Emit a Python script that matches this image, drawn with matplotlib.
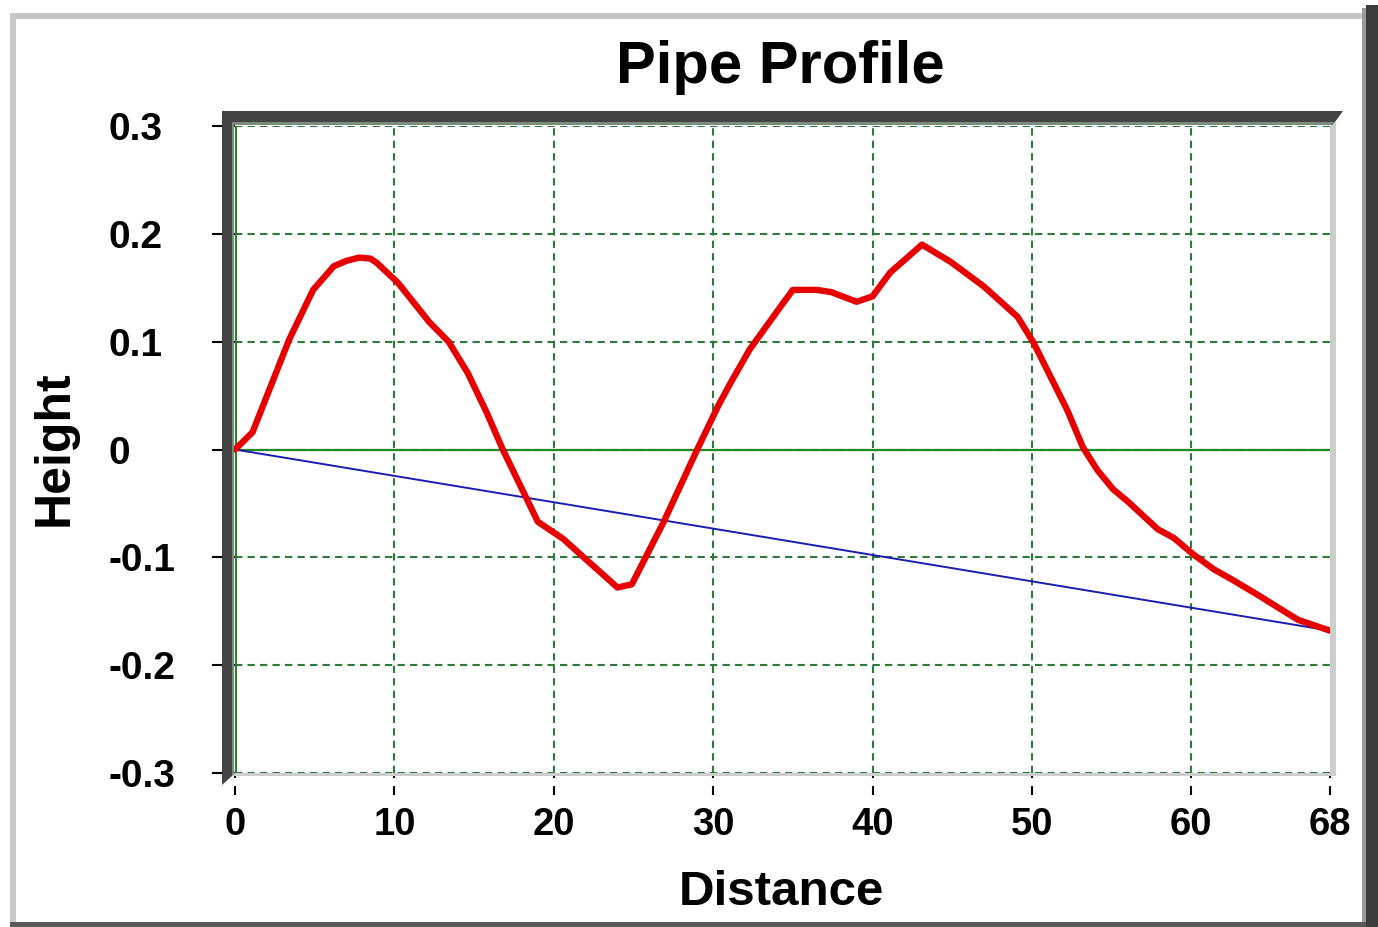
import matplotlib
matplotlib.use("Agg")
import matplotlib.pyplot as plt
from matplotlib.patches import Polygon, Rectangle

# ---------------- data ----------------
distance = [0, 1.1, 3.4, 4.9, 6.2, 7.0, 7.8, 8.5, 8.9, 10.2, 12.2, 13.4, 14.6,
            15.8, 16.8, 19.0, 20.6, 21.8, 24.0, 24.9, 26.9, 29.0, 30.3, 31.1,
            32.3, 34.4, 35.0, 36.5, 37.4, 39.0, 40.0, 41.1, 43.1, 44.9, 47.0,
            49.1, 50.1, 52.2, 53.2, 54.1, 55.1, 56.0, 57.9, 58.9, 60.1, 61.4,
            62.6, 64.3, 65.6, 66.7, 68.7]
height = [0, 0.016, 0.102, 0.148, 0.170, 0.175, 0.178, 0.177, 0.173, 0.155,
          0.118, 0.100, 0.071, 0.034, 0.0, -0.067, -0.083, -0.099, -0.128,
          -0.125, -0.067, 0.0, 0.040, 0.062, 0.093, 0.136, 0.148, 0.148, 0.146,
          0.137, 0.142, 0.164, 0.190, 0.174, 0.151, 0.123, 0.099, 0.037, 0.002,
          -0.019, -0.037, -0.048, -0.074, -0.082, -0.097, -0.111, -0.121,
          -0.136, -0.148, -0.158, -0.168]
gradient_x = [0, 68.7]
gradient_y = [0, -0.168]

x_ticks = [0, 10, 20, 30, 40, 50, 60, 68.7]
x_tick_labels = ["0", "10", "20", "30", "40", "50", "60", "68"]
y_ticks = [0.3, 0.2, 0.1, 0, -0.1, -0.2, -0.3]
y_tick_labels = ["0.3", "0.2", "0.1", "0", "-0.1", "-0.2", "-0.3"]

title = "Pipe Profile"
x_label = "Distance"
y_label = "Height"

# ---------------- layout ----------------
W, H = 1378, 927
FONT = "Liberation Sans"
fig = plt.figure(figsize=(W / 100, H / 100), dpi=100)
fig.patch.set_facecolor("white")


def fx(x):
    return x / W


def fy(y):
    return 1 - y / H


L, R, T, B = 235, 1330, 126, 773
ax = fig.add_axes([fx(L), fy(B), (R - L) / W, (B - T) / H])
ax.set_facecolor("white")
for s in ax.spines.values():
    s.set_visible(False)

ax.set_xlim(0, 68.7)
ax.set_ylim(-0.3, 0.3)

grid_green = "#2d7a3a"
ax.set_xticks(x_ticks)
ax.set_yticks(y_ticks)
ax.grid(True, color=grid_green, linestyle=(0, (3.5, 2.5)), linewidth=1.5, zorder=1)
ax.set_axisbelow(True)
ax.xaxis.get_gridlines()[-1].set_visible(False)

ax.axhline(0, color="#1f8a1f", linewidth=1.6, zorder=2)
ax.axvline(0, color="#1f8a1f", linewidth=3, zorder=2)

ax.plot(gradient_x, gradient_y, color="#1c1cb0", linewidth=1.4, zorder=3)
ax.plot(distance, height, color="#e60000", linewidth=4.6, zorder=4,
        solid_joinstyle="round", solid_capstyle="round", clip_on=False)

ax.set_xticklabels(x_tick_labels, fontfamily=FONT, fontweight="bold", fontsize=27.5)
ax.set_yticklabels(y_tick_labels, fontfamily=FONT, fontweight="bold", fontsize=28,
                   ha="left")
ax.tick_params(axis="x", direction="out", length=22 * 0.72, width=1.5,
               pad=12 * 0.72, color="black")
ax.tick_params(axis="y", direction="out", length=23 * 0.72, width=1.5,
               pad=103 * 0.72, color="black")

ax.set_xlabel(x_label, fontfamily=FONT, fontweight="bold", fontsize=35.5, va="baseline")
ax.xaxis.set_label_coords((781 - L) / (R - L), (B - 905) / (B - T))
ax.set_ylabel(y_label, fontfamily=FONT, fontweight="bold", fontsize=36, va="center")
ax.yaxis.set_label_coords((55 - L) / (R - L), (B - 448) / (B - T))

fig.text(fx(780), fy(83), title, fontfamily=FONT, fontweight="bold", fontsize=43,
         ha="center", va="baseline")


def poly(points, color, z=5):
    fig.patches.append(Polygon([(fx(x), fy(y)) for x, y in points], closed=True,
                               transform=fig.transFigure, facecolor=color,
                               edgecolor="none", zorder=z))


def rect(x0, y0, x1, y1, color, z=5):
    fig.patches.append(Rectangle((fx(x0), fy(y1)), (x1 - x0) / W, (y1 - y0) / H,
                                 transform=fig.transFigure, facecolor=color,
                                 edgecolor="none", zorder=z))


# plot-area bevel
poly([(232, 776), (1336, 776), (1336, 122), (1330, 124), (1330, 773), (234, 773)],
     "#cdcdcd")
rect(234, 778, 1340, 786, "white")
poly([(222, 785), (222, 111), (1343, 111), (1335, 122), (232, 122), (232, 776)],
     "#444444")
poly([(232, 776), (232, 122), (1335, 122), (1333, 125), (234, 125), (234, 774)],
     "#7c8c7c")

# outer frame
rect(10, 13, 1365, 19, "#c8c8c8")
rect(10, 13, 16, 927, "#c8c8c8")
rect(1362, 8, 1366, 927, "#9a9a9a")
rect(1366, 5, 1378, 927, "#3c3c3c")
rect(10, 922, 1366, 927, "#5a5a5a")

fig.savefig("out.png", dpi=100, facecolor="white")
